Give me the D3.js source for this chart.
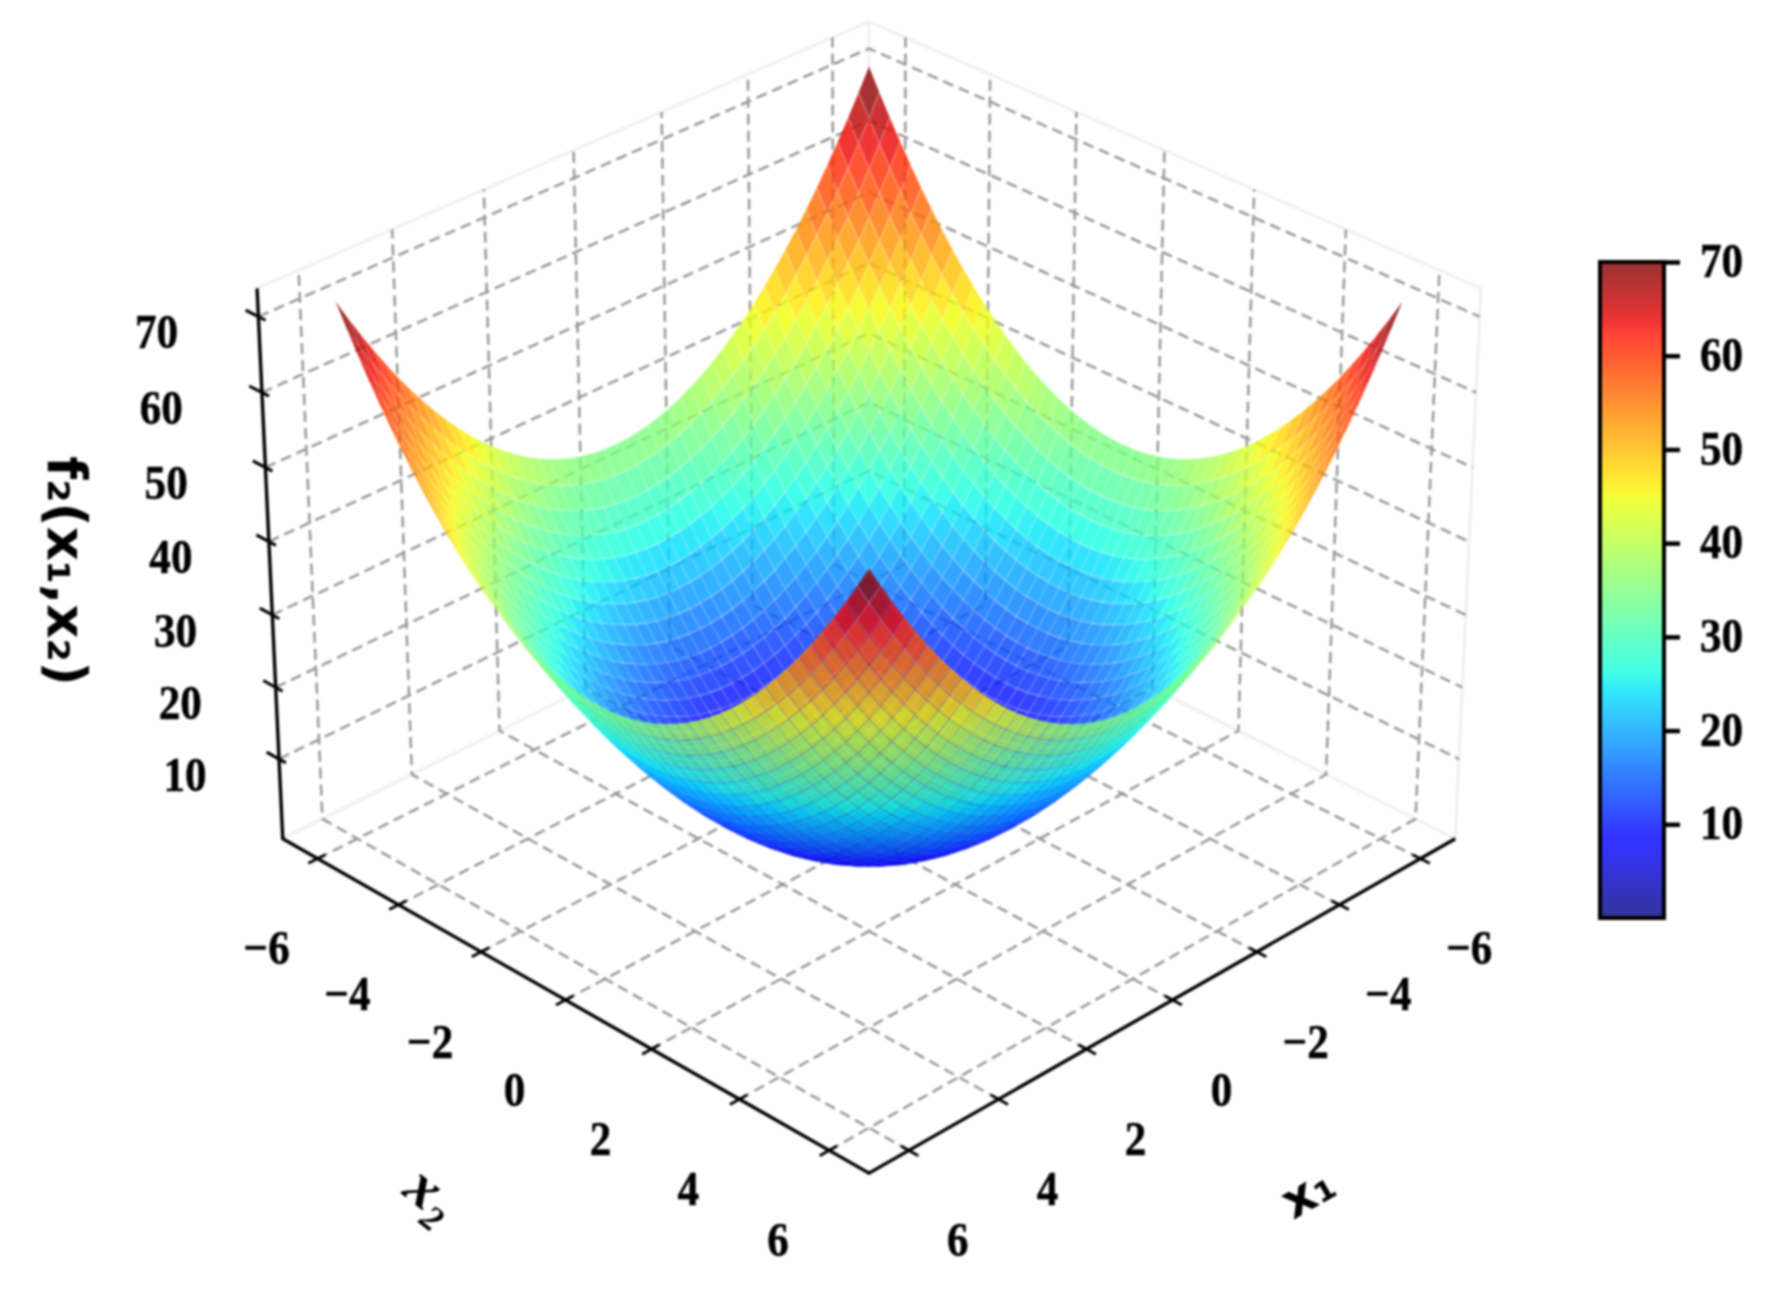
<!DOCTYPE html>
<html><head><meta charset="utf-8">
<script src="https://cdn.jsdelivr.net/npm/d3@7"></script>
<style>
html,body{margin:0;padding:0;background:#fff}
svg{display:block;filter:blur(1.2px)}
.tl{font-family:"Liberation Serif";font-weight:700;font-size:49px;fill:#000;stroke:#000;stroke-width:0.5px}
</style></head><body>
<svg id="c" width="1775" height="1313"></svg>
<script>
// grid of the surface (both inputs) and the values read along one input
const gridValues=[-6,-5.75,-5.5,-5.25,-5,-4.75,-4.5,-4.25,-4,-3.75,-3.5,-3.25,-3,-2.75,-2.5,-2.25,-2,-1.75,-1.5,-1.25,-1,-0.75,-0.5,-0.25,0,0.25,0.5,0.75,1,1.25,1.5,1.75,2,2.25,2.5,2.75,3,3.25,3.5,3.75,4,4.25,4.5,4.75,5,5.25,5.5,5.75,6];
const profileValues=[36,33.06,30.25,27.56,25,22.56,20.25,18.06,16,14.06,12.25,10.56,9,7.56,6.25,5.06,4,3.06,2.25,1.56,1,0.56,0.25,0.06,0,0.06,0.25,0.56,1,1.56,2.25,3.06,4,5.06,6.25,7.56,9,10.56,12.25,14.06,16,18.06,20.25,22.56,25,27.56,30.25,33.06,36];
const xTicks=[-6,-4,-2,0,2,4,6];
const zTicks=[10,20,30,40,50,60,70];
const cbarTicks=[10,20,30,40,50,60,70];
const jetR=[[0,0],[0.35,0],[0.66,1],[0.89,1],[1,0.5]];
const jetG=[[0,0],[0.125,0],[0.375,1],[0.64,1],[0.91,0],[1,0]];
const jetB=[[0,0.5],[0.11,1],[0.34,1],[0.65,0],[1,0]];
const xLimit=[-6.875,6.875], zLimit=[-1.25,73.7], cLimit=[0,70];

// ---- camera (elevation 30, azimuth 45, perspective)
const sx=d3.scaleLinear().domain(xLimit).range([-1,1]);
const sz=d3.scaleLinear().domain(zLimit).range([-0.75,0.75]);
const DIST=17.5,F=7410,CX=869,CY=569.4,SE=0.5,CE=Math.sqrt(3)/2,R2=Math.SQRT2;
function projN(X,Y,Z){
  const s=(Y-X)/R2,t=(X+Y)/R2;
  const up=-t*SE+Z*CE,tw=t*CE+Z*SE,k=F/(DIST-tw);
  return [CX+s*k,CY-up*k,tw];
}
const proj=(a,b,c)=>projN(sx(a),sx(b),sz(c));
const M=xLimit[1],m=xLimit[0],Zlo=zLimit[0],Zhi=zLimit[1];
const lineGen=d3.line().x(d=>d[0]).y(d=>d[1]);

const ch=s=>d3.scaleLinear().domain(s.map(d=>d[0])).range(s.map(d=>d[1])).clamp(true);
const cR=ch(jetR),cG=ch(jetG),cB=ch(jetB);
const norm=d3.scaleLinear().domain(cLimit).range([0,1]).clamp(true);
const jet=v=>{const t=norm(v);return `rgb(${cR(t)*255},${cG(t)*255},${cB(t)*255})`;};

const svg=d3.select("#c");
svg.append("rect").attr("x",-10).attr("y",-10).attr("width",1795).attr("height",1333).attr("fill","#fff");

// ---- pane edges
const paneG=svg.append("g").attr("fill","none").attr("stroke","#eeeeee").attr("stroke-width",2.5);
[[[M,m,Zhi],[m,m,Zhi],[m,M,Zhi]],[[M,m,Zlo],[m,m,Zlo],[m,M,Zlo]],[[m,m,Zlo],[m,m,Zhi]],[[m,M,Zlo],[m,M,Zhi]]]
 .forEach(p=>paneG.append("path").attr("d",lineGen(p.map(q=>proj(...q)))));

// ---- dashed grid
const gridG=svg.append("g").attr("fill","none").attr("stroke","#999999").attr("stroke-width",2.5).attr("stroke-dasharray","11,6");
xTicks.forEach(v=>{
  gridG.append("path").attr("d",lineGen([[v,M,Zlo],[v,m,Zlo],[v,m,Zhi]].map(q=>proj(...q))));
  gridG.append("path").attr("d",lineGen([[M,v,Zlo],[m,v,Zlo],[m,v,Zhi]].map(q=>proj(...q))));
});
zTicks.forEach(v=>{
  gridG.append("path").attr("d",lineGen([[M,m,v],[m,m,v],[m,M,v]].map(q=>proj(...q))));
});

// ---- surface
const cells=[];
for(let i=0;i<gridValues.length-1;i++)for(let j=0;j<gridValues.length-1;j++){
  const c=[[i,j],[i+1,j],[i+1,j+1],[i,j+1]].map(([a,b])=>[gridValues[a],gridValues[b],profileValues[a]+profileValues[b]]);
  const pts=c.map(q=>proj(...q));
  cells.push({pts,depth:d3.mean(pts,p=>p[2]),v:d3.mean(c,q=>q[2])});
}
cells.sort((a,b)=>a.depth-b.depth);
svg.append("g").selectAll("polygon").data(cells).join("polygon")
  .attr("points",d=>{
    const cx=d3.mean(d.pts,p=>p[0]),cy=d3.mean(d.pts,p=>p[1]);
    return d.pts.map(p=>[cx+(p[0]-cx)*0.98,cy+(p[1]-cy)*0.98].join(",")).join(" ");
  })
  .attr("fill",d=>jet(d.v)).attr("fill-opacity",0.8);

// ---- axes lines and ticks
const axG=svg.append("g").attr("fill","none").attr("stroke","#000").attr("stroke-width",3.4);
axG.append("path").attr("d",lineGen([[M,m,Zhi],[M,m,Zlo],[M,M,Zlo],[m,M,Zlo]].map(q=>proj(...q))));
const tickOut=0.03,tickIn=0.025;
xTicks.forEach(v=>{
  const a=sx(v),zN=sz(Zlo);
  axG.append("path").attr("stroke-width",2.8).attr("d",lineGen([projN(1+tickOut,a,zN),projN(1-tickIn,a,zN)]));
  axG.append("path").attr("stroke-width",2.8).attr("d",lineGen([projN(a,1+tickOut,zN),projN(a,1-tickIn,zN)]));
});
zTicks.forEach(v=>{
  const c=sz(v);
  axG.append("path").attr("stroke-width",3).attr("d",lineGen([projN(1,-1-0.045,c),projN(1,-1+0.025,c)]));
});

// ---- tick labels
function label(x,y,t,sc=0.88){
  svg.append("text").attr("class","tl")
    .attr("transform",`translate(${x},${y}) scale(${sc},1)`)
    .attr("text-anchor","middle").attr("dy","0.34em").text(t);
}
const minus=v=>String(v).replace("-","\u2212");
xTicks.forEach(v=>{
  let p=proj(M,v,Zlo); label(p[0]-51,p[1]+89,minus(v));
  p=proj(v,M,Zlo);     label(p[0]+49,p[1]+89,minus(v));
});
zTicks.forEach(v=>{ const p=proj(M,m,v); label(p[0]-98-(v-40)*0.13,p[1]+15,minus(v)); });

// ---- axis titles
const title=(x,y,rot,t,size,font,extra)=>{
  const e=svg.append("text").attr("transform",`translate(${x},${y}) rotate(${rot})`)
   .attr("text-anchor","middle").attr("dy","0.3em")
   .attr("font-family",font).attr("font-weight",700).attr("font-size",size).attr("fill","#000").text(t);
  if(extra)extra(e);
};
title(432,1195,38,"x\u2082",60,"Liberation Serif",e=>e.attr("font-style","italic"));
title(1309,1194,-30,"x\u2081",49,"DejaVu Sans");
title(64,571,90,"f\u2082(x\u2081,x\u2082)",53,"DejaVu Sans");

// ---- colour bar
const cy=d3.scaleLinear().domain(cLimit).range([918,262]);
const cbar=svg.append("g").attr("shape-rendering","crispEdges");
const nSteps=328;
const steps=d3.range(0,nSteps).map(i=>cLimit[0]+(cLimit[1]-cLimit[0])*i/nSteps);
const stepH=(cy(0)-cy(70))/nSteps;
cbar.selectAll("rect").data(steps).join("rect")
  .attr("x",1600).attr("width",64).attr("y",d=>cy(d)-stepH).attr("height",stepH)
  .attr("fill",d=>jet(d+0.1)).attr("fill-opacity",0.8);
svg.append("rect").attr("x",1600).attr("y",262).attr("width",64).attr("height",656)
  .attr("fill","none").attr("stroke","#000").attr("stroke-width",4);
const cAxis=d3.axisRight(cy).tickValues(cbarTicks).tickSize(16).tickPadding(0).tickFormat(d3.format("d"));
const cg=svg.append("g").attr("transform","translate(1664,0)").call(cAxis);
cg.select(".domain").remove();
cg.selectAll(".tick line").attr("stroke","#000").attr("stroke-width",4.5);
cg.selectAll(".tick text").attr("class","tl").attr("x",0)
  .attr("transform","translate(36,0) scale(0.88,1)").attr("dy","0.3em").attr("text-anchor","start");
</script>
</body></html>
